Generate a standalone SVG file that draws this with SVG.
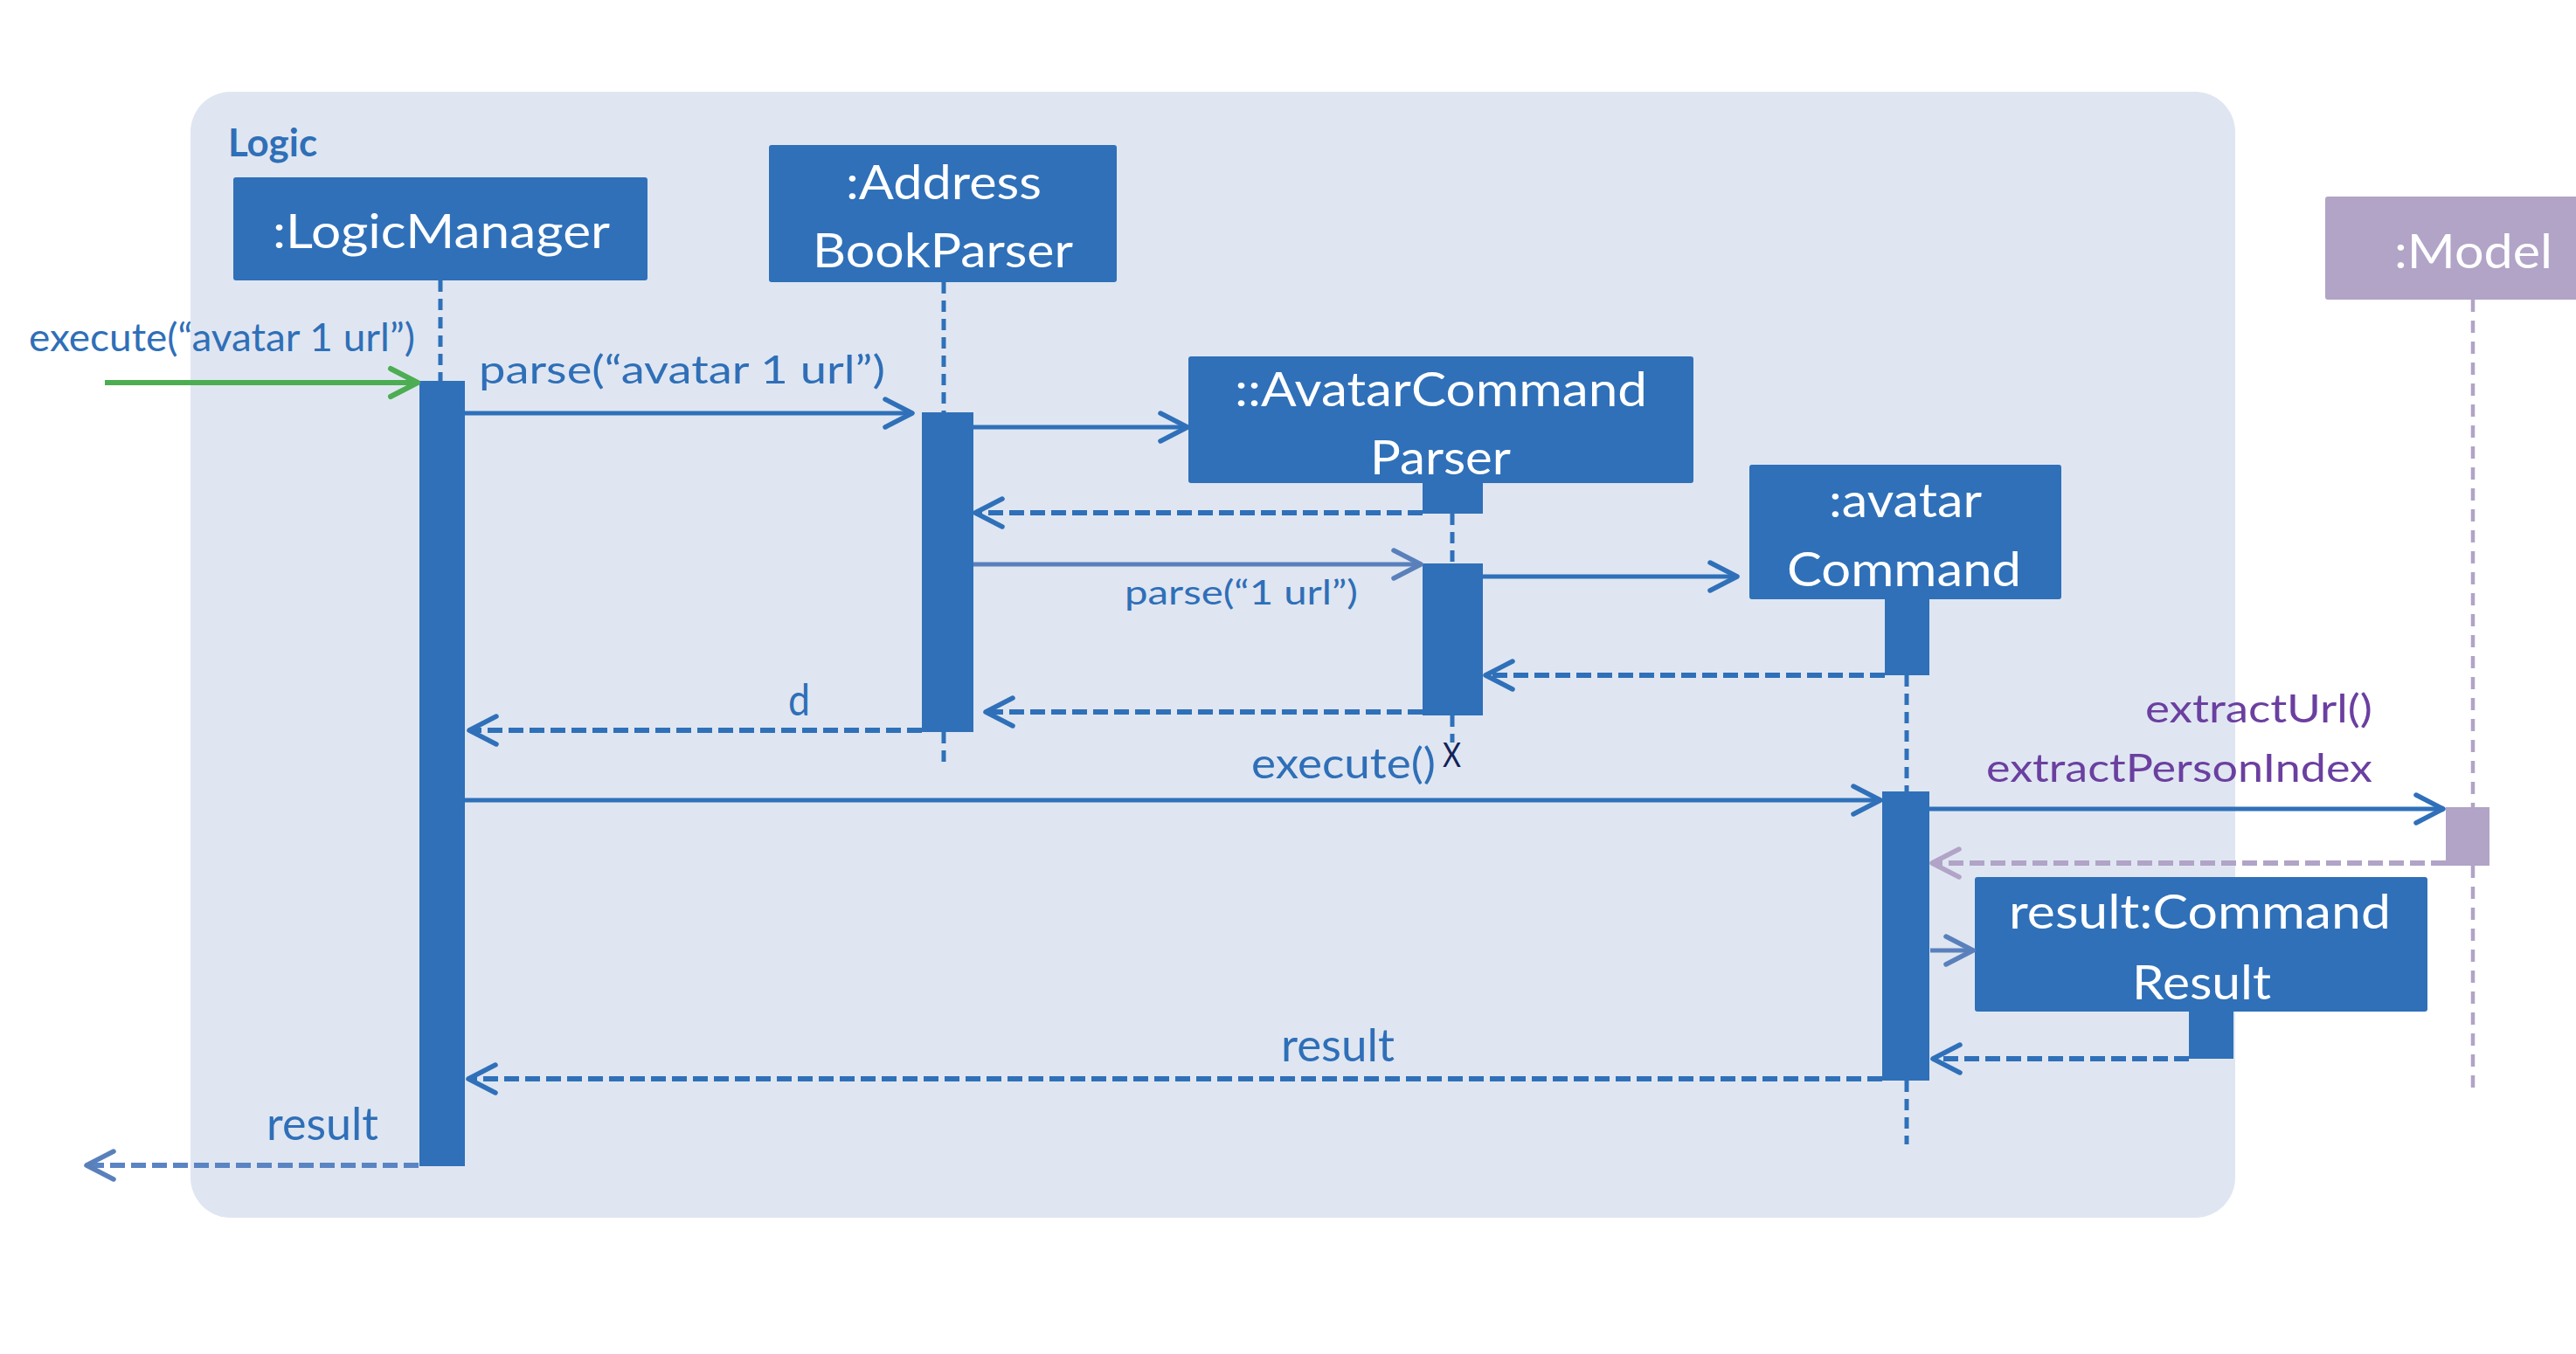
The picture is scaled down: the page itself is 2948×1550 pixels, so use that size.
<svg xmlns="http://www.w3.org/2000/svg" width="2948" height="1550" viewBox="0 0 2948 1550">
<style>
  .box { fill: #2F70B9; }
  .bar { fill: #2F70B9; }
  .mbox { fill: #B1A4C7; }
  .ntext { font-family: Lato, "Liberation Sans", sans-serif; font-size: 54px; fill: #FFFFFF; }
  .lbl { font-family: Lato, "Liberation Sans", sans-serif; fill: #2F6FB8; }
  .plbl { font-family: Lato, "Liberation Sans", sans-serif; fill: #6B3FA0; font-size: 45px; }
  .life { stroke: #2F70B9; stroke-width: 5; stroke-dasharray: 13 8; fill: none; }
  .mlife { stroke: #B1A4C7; stroke-width: 4.5; stroke-dasharray: 14 10; fill: none; }
  .call { stroke: #2F70B9; stroke-width: 5; fill: none; marker-end: url(#ahBlue); }
  .call2 { stroke: #5A80BC; stroke-width: 5; fill: none; marker-end: url(#ahGray); }
  .ret { stroke: #2F70B9; stroke-width: 6; stroke-dasharray: 17 7; fill: none; marker-end: url(#ahBlue); }
  .ret2 { stroke: #5A84C2; stroke-width: 6; stroke-dasharray: 17 7; fill: none; marker-end: url(#ahGray); }
  .mret { stroke: #B1A4C7; stroke-width: 6; stroke-dasharray: 17 7; fill: none; marker-end: url(#ahLav); }
  .found { stroke: #4CAD52; stroke-width: 6; fill: none; marker-end: url(#ahGreen); }
</style>
<defs>
  <marker id="ahBlue" markerUnits="userSpaceOnUse" markerWidth="60" markerHeight="60" refX="0" refY="0" orient="auto" overflow="visible">
    <path d="M-31,-16 L0,0 L-31,16" fill="none" stroke="#2F70B9" stroke-width="5.5" stroke-dasharray="none" stroke-linecap="round" stroke-linejoin="round"/>
  </marker>
  <marker id="ahGray" markerUnits="userSpaceOnUse" markerWidth="60" markerHeight="60" refX="0" refY="0" orient="auto" overflow="visible">
    <path d="M-31,-16 L0,0 L-31,16" fill="none" stroke="#5A80BC" stroke-width="5.5" stroke-dasharray="none" stroke-linecap="round" stroke-linejoin="round"/>
  </marker>
  <marker id="ahLav" markerUnits="userSpaceOnUse" markerWidth="60" markerHeight="60" refX="0" refY="0" orient="auto" overflow="visible">
    <path d="M-31,-16 L0,0 L-31,16" fill="none" stroke="#B1A4C7" stroke-width="5.5" stroke-dasharray="none" stroke-linecap="round" stroke-linejoin="round"/>
  </marker>
  <marker id="ahGreen" markerUnits="userSpaceOnUse" markerWidth="60" markerHeight="60" refX="0" refY="0" orient="auto" overflow="visible">
    <path d="M-31,-16 L0,0 L-31,16" fill="none" stroke="#4CAD52" stroke-width="6" stroke-dasharray="none" stroke-linecap="round" stroke-linejoin="round"/>
  </marker>
</defs>

<rect x="0" y="0" width="2948" height="1550" fill="#FFFFFF"/>

<g id="logic-frame">
  <rect x="218" y="105" width="2340" height="1289" rx="46" ry="46" fill="#DFE6F1"/>
  <text x="261" y="179" font-family="Lato, 'Liberation Sans', sans-serif" font-size="44" font-weight="bold" fill="#2F6FB8" textLength="102" lengthAdjust="spacingAndGlyphs">Logic</text>
</g>

<g id="model">
  <line class="mlife" x1="2830" y1="343" x2="2830" y2="924"/>
  <line class="mlife" x1="2830" y1="991" x2="2830" y2="1250"/>
  <rect class="mbox" x="2661" y="225" width="300" height="118" rx="3"/>
  <text class="ntext" x="2740" y="307" font-size="60" textLength="181" lengthAdjust="spacingAndGlyphs">:Model</text>
  <rect class="mbox" x="2799" y="924" width="50" height="67"/>
</g>

<g id="logic-manager">
  <line class="life" x1="504" y1="321" x2="504" y2="436"/>
  <rect class="box" x="267" y="203" width="474" height="118" rx="3"/>
  <text class="ntext" x="312" y="284" textLength="386" lengthAdjust="spacingAndGlyphs">:LogicManager</text>
  <rect class="bar" x="480" y="436" width="52" height="899"/>
</g>

<g id="address-book-parser">
  <line class="life" x1="1080" y1="323" x2="1080" y2="472"/>
  <line class="life" x1="1080" y1="838" x2="1080" y2="873"/>
  <rect class="box" x="880" y="166" width="398" height="157" rx="3"/>
  <text class="ntext" x="968" y="228" textLength="224" lengthAdjust="spacingAndGlyphs">:Address</text>
  <text class="ntext" x="930" y="306" textLength="298" lengthAdjust="spacingAndGlyphs">BookParser</text>
  <rect class="bar" x="1055" y="472" width="59" height="366"/>
</g>

<g id="avatar-command-parser">
  <line class="life" x1="1662" y1="588" x2="1662" y2="645"/>
  <line class="life" x1="1662" y1="819" x2="1662" y2="850"/>
  <rect class="box" x="1360" y="408" width="578" height="145" rx="3"/>
  <text class="ntext" x="1413" y="465" textLength="472" lengthAdjust="spacingAndGlyphs">::AvatarCommand</text>
  <text class="ntext" x="1568" y="543" textLength="161" lengthAdjust="spacingAndGlyphs">Parser</text>
  <rect class="bar" x="1628" y="553" width="69" height="35"/>
  <rect class="bar" x="1628" y="645" width="69" height="174"/>
  <text x="1651" y="878" font-family="Lato, 'Liberation Sans', sans-serif" font-size="39" fill="#13235A" textLength="21" lengthAdjust="spacingAndGlyphs">X</text>
</g>

<g id="avatar-command">
  <line class="life" x1="2182" y1="773" x2="2182" y2="906"/>
  <line class="life" x1="2182" y1="1237" x2="2182" y2="1310"/>
  <rect class="box" x="2002" y="532" width="357" height="154" rx="3"/>
  <text class="ntext" x="2093" y="592" textLength="175" lengthAdjust="spacingAndGlyphs">:avatar</text>
  <text class="ntext" x="2045" y="671" textLength="268" lengthAdjust="spacingAndGlyphs">Command</text>
  <rect class="bar" x="2157" y="686" width="51" height="87"/>
  <rect class="bar" x="2154" y="906" width="54" height="331"/>
</g>

<g id="command-result">
  <rect class="box" x="2260" y="1004" width="518" height="154" rx="3"/>
  <text class="ntext" x="2299" y="1063" textLength="437" lengthAdjust="spacingAndGlyphs">result:Command</text>
  <text class="ntext" x="2440" y="1144" textLength="159" lengthAdjust="spacingAndGlyphs">Result</text>
  <rect class="bar" x="2505" y="1158" width="51" height="54"/>
</g>

<g id="connectors">
  <path class="found" d="M120,438 L478,438"/>
  <path class="call" d="M532,473 L1044,473"/>
  <path class="call" d="M1114,489 L1359,489"/>
  <path class="ret" d="M1628,587 L1116,587"/>
  <path class="call2" d="M1114,646 L1626,646"/>
  <path class="call" d="M1697,660 L1988,660"/>
  <path class="ret" d="M2157,773 L1700,773"/>
  <path class="ret" d="M1628,815 L1128,815"/>
  <path class="ret" d="M1055,836 L537,836"/>
  <path class="call" d="M532,916 L2152,916"/>
  <path class="call" d="M2208,926 L2796,926"/>
  <path class="mret" d="M2799,988 L2211,988"/>
  <path class="call2" d="M2209,1088 L2258,1088"/>
  <path class="ret" d="M2505,1212 L2212,1212"/>
  <path class="ret" d="M2154,1235 L536,1235"/>
  <path class="ret2" d="M479,1334 L99,1334"/>

  <text class="lbl" x="33" y="402" font-size="44" textLength="442" lengthAdjust="spacingAndGlyphs">execute(“avatar 1 url”)</text>
  <text class="lbl" x="548" y="439" font-size="45" textLength="465" lengthAdjust="spacingAndGlyphs">parse(“avatar 1 url”)</text>
  <text class="lbl" x="1287" y="692" font-size="39" textLength="267" lengthAdjust="spacingAndGlyphs">parse(“1 url”)</text>
  <text class="lbl" x="902" y="819" font-size="50" textLength="25" lengthAdjust="spacingAndGlyphs">d</text>
  <text class="lbl" x="1432" y="891" font-size="48" textLength="211" lengthAdjust="spacingAndGlyphs">execute()</text>
  <text class="plbl" x="2455" y="827" textLength="260" lengthAdjust="spacingAndGlyphs">extractUrl()</text>
  <text class="plbl" x="2273" y="895" textLength="442" lengthAdjust="spacingAndGlyphs">extractPersonIndex</text>
  <text class="lbl" x="1466" y="1215" font-size="52" textLength="130" lengthAdjust="spacingAndGlyphs">result</text>
  <text class="lbl" x="305" y="1305" font-size="52" textLength="128" lengthAdjust="spacingAndGlyphs">result</text>
</g>
</svg>
